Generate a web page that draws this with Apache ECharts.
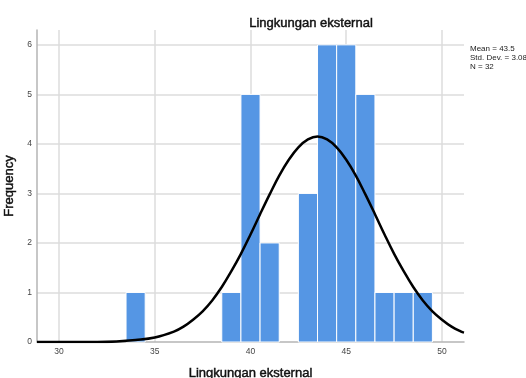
<!DOCTYPE html>
<html><head><meta charset="utf-8">
<script src="https://cdn.jsdelivr.net/npm/echarts@6/dist/echarts.min.js"></script>
<style>html,body{margin:0;padding:0;background:#fff}#c{width:526px;height:378px}</style>
</head><body><div id="c"></div>
<script>
// Histogram bins (bin centres, width 1) and frequencies
const binCenters = [34, 39, 40, 41, 43, 44, 45, 46, 47, 48, 49];
const frequencies = [1, 1, 5, 2, 3, 6, 6, 5, 1, 1, 1];
// Normal curve points
const curveX = [28.85, 30, 31, 32, 33, 34, 35, 36, 36.5, 37, 37.5, 38, 38.5, 39, 39.5, 40, 40.5, 41, 41.5, 42, 42.5, 43, 43.5, 44, 44.5, 45, 45.5, 46, 46.5, 47, 47.5, 48, 48.5, 49, 49.5, 50, 50.5, 51, 51.15];
const curveY = [0.00, 0.00, 0.00, 0.00, 0.01, 0.04, 0.09, 0.21, 0.31, 0.45, 0.62, 0.84, 1.11, 1.43, 1.78, 2.17, 2.58, 2.98, 3.36, 3.68, 3.93, 4.09, 4.15, 4.09, 3.93, 3.68, 3.36, 2.98, 2.58, 2.17, 1.78, 1.43, 1.11, 0.84, 0.62, 0.45, 0.31, 0.21, 0.19];
const statsLines = ['Mean = 43.5', 'Std. Dev. = 3.08', 'N = 32'];
const titleText = 'Lingkungan eksternal';
const xName = 'Lingkungan eksternal';
const yName = 'Frequency';

const chart = echarts.init(document.getElementById('c'));
const font = '"Liberation Sans", Arial, sans-serif';
const heavy = { fontFamily: font, fontSize: 13, fontWeight: 'normal', color: '#111', textBorderColor: '#111', textBorderWidth: 0.45 };
chart.setOption({
  animation: false,
  title: {
    text: titleText, left: 306, top: 12, textAlign: 'center',
    textStyle: heavy
  },
  grid: { left: 37, right: 62, top: 30, bottom: 36, outerBoundsMode: 'none', containLabel: false },
  xAxis: {
    type: 'value', min: 28.85, max: 51.15, minInterval: 5, maxInterval: 5,
    name: xName, nameLocation: 'middle', nameGap: 25,
    nameTextStyle: heavy,
    axisLine: { show: true, lineStyle: { color: '#b5b5b5', width: 1.5 } },
    axisTick: { show: false },
    axisLabel: { fontFamily: font, fontSize: 8.5, color: '#444', showMinLabel: false, showMaxLabel: false, margin: 5,
      formatter: v => (Math.abs(v % 5) < 1e-6 ? String(v) : '') },
    splitLine: { show: true, showMinLine: false, showMaxLine: false, lineStyle: { color: '#dcdcdc', width: 1.5 } }
  },
  yAxis: {
    type: 'value', min: 0, max: 6.3, interval: 1,
    name: yName, nameLocation: 'middle', nameGap: 14,
    nameTextStyle: heavy,
    axisLine: { show: true, lineStyle: { color: '#b5b5b5', width: 1.5 } },
    axisTick: { show: false },
    axisLabel: { fontFamily: font, fontSize: 8.5, color: '#444', showMaxLabel: false, margin: 5 },
    splitLine: { show: true, showMaxLine: false, showMinLine: false, lineStyle: { color: '#dcdcdc', width: 1.5 } }
  },
  graphic: statsLines.map((t, i) => ({
    type: 'text', left: 470, top: 45 + i * 9,
    style: { text: t, font: '8px ' + font, fill: '#222' }
  })),
  series: [
    {
      type: 'custom',
      data: binCenters.map((c, i) => [c, frequencies[i]]),
      renderItem: function (params, api) {
        const c = api.value(0), f = api.value(1);
        const p0 = api.coord([c - 0.5, 0]);
        const p1 = api.coord([c + 0.5, f]);
        return {
          type: 'rect',
          shape: { x: p0[0], y: p1[1], width: p1[0] - p0[0], height: p0[1] - p1[1] },
          style: { fill: '#5596E4', stroke: '#ffffff', lineWidth: 1 }
        };
      },
      z: 2
    },
    {
      type: 'line',
      data: curveX.map((x, i) => [x, curveY[i]]),
      smooth: 0.4, showSymbol: false,
      lineStyle: { color: '#000', width: 2.5 },
      z: 3
    }
  ]
});
</script></body></html>
